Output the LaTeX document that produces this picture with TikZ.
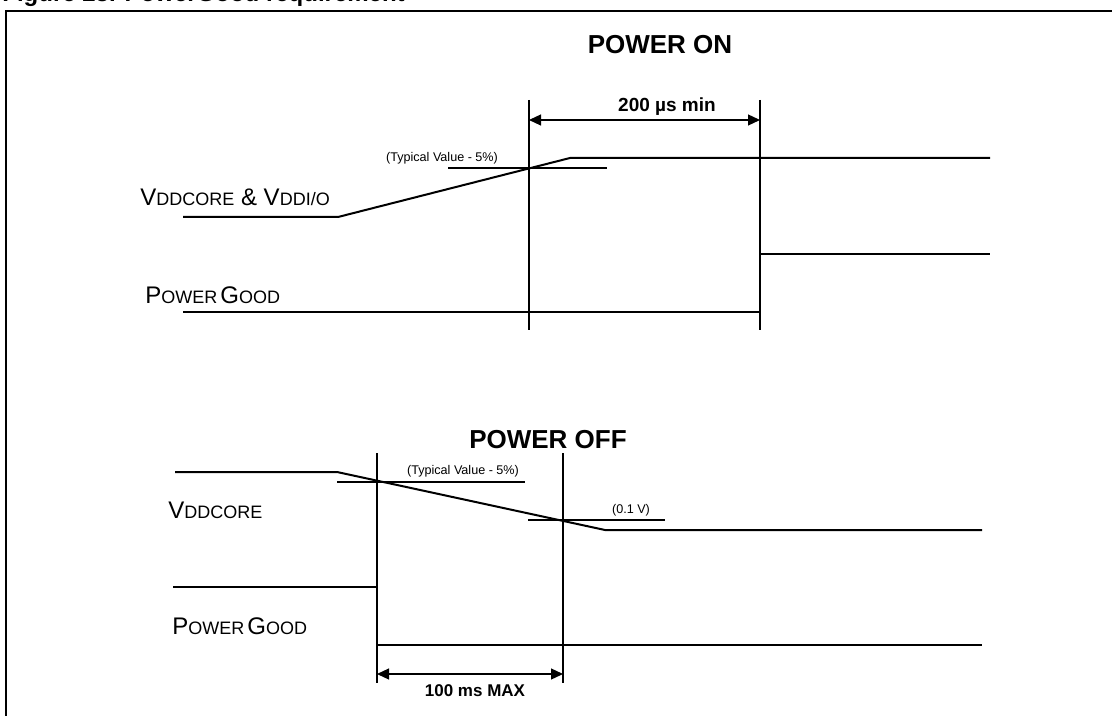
\documentclass[tikz,border=0pt]{standalone}
\usepackage{fontspec}
\setmainfont{Liberation Sans}
\usetikzlibrary{arrows.meta}

% large and small capitals of the signal names
\newcommand{\capL}[1]{{\fontsize{12pt}{12pt}\selectfont #1}}
\newcommand{\capS}[1]{{\fontsize{9pt}{9pt}\selectfont #1}}

\begin{document}
\begin{tikzpicture}[
    x=0.5pt, y=-0.5pt,
    signal/.style={line width=1pt, line join=miter},
    marker/.style={line width=0.8pt},
    level/.style={line width=0.8pt},
    dim/.style={{Triangle[length=6pt,width=5.5pt]}-{Triangle[length=6pt,width=5.5pt]}, line width=0.6pt},
    heading/.style={font=\fontsize{13pt}{13pt}\selectfont\bfseries, inner sep=0pt},
    siglabel/.style={anchor=base west, inner sep=0pt},
    note/.style={font=\fontsize{6.3pt}{6.3pt}\selectfont, inner sep=0pt},
    dimlabel/.style={font=\fontsize{9.5pt}{9.5pt}\selectfont\bfseries, inner sep=0pt}
]
\useasboundingbox (0,0) rectangle (1112,716);

% Caption (cut off at the top) and frame
\node[anchor=base west, inner sep=0pt, font=\fontsize{12pt}{12pt}\selectfont\bfseries] (caption) at (2,2) {Figure 23. PowerGood requirement};
\draw[line width=1pt] (6,11) rectangle (1130,740);

% POWER ON
\node[heading] (on) at (660,45) {POWER ON};
\draw[marker] (529,100) -- (529,330);
\draw[marker] (760,100) -- (760,330);
\draw[dim] (529,120) -- (760,120);
\node[dimlabel] (tmin) at (667,107) {200 µs min};

\node[siglabel] (vddon) at (140,206) {\capL{V}\capS{DDCORE}\capL{ \& V}\capS{DDI/O}};
\draw[signal] (183,217) -- (338,217) -- (570,158) -- (990,158);
\draw[level] (448,168) -- (607,168);
\node[note] (typon) at (442,158) {(Typical Value - 5\%)};

\node[siglabel] (pgon) at (145,304) {\capL{P}\capS{OWER}\hspace{1.5pt}\capL{G}\capS{OOD}};
\draw[signal] (183,312) -- (760,312) -- (760,254) -- (990,254);

% POWER OFF
\node[heading] (off) at (548,440) {POWER OFF};
\draw[marker] (377,453) -- (377,683);
\draw[marker] (563,453) -- (563,683);

\node[siglabel] (vddoff) at (168,518) {\capL{V}\capS{DDCORE}};
\draw[signal] (175,472) -- (337,472) -- (605,530) -- (982,530);
\draw[level] (337,482) -- (525,482);
\node[note] (typoff) at (463,471) {(Typical Value - 5\%)};
\draw[level] (528,520) -- (665,520);
\node[note] (low) at (631,510) {(0.1 V)};

\node[siglabel] (pgoff) at (172,634) {\capL{P}\capS{OWER}\hspace{1.5pt}\capL{G}\capS{OOD}};
\draw[signal] (173,587) -- (377,587) -- (377,645) -- (982,645);
\draw[dim] (377,674) -- (563,674);
\node[dimlabel, font=\fontsize{8.5pt}{8.5pt}\selectfont\bfseries] (tmax) at (475,691) {100 ms MAX};

\end{tikzpicture}
\end{document}
